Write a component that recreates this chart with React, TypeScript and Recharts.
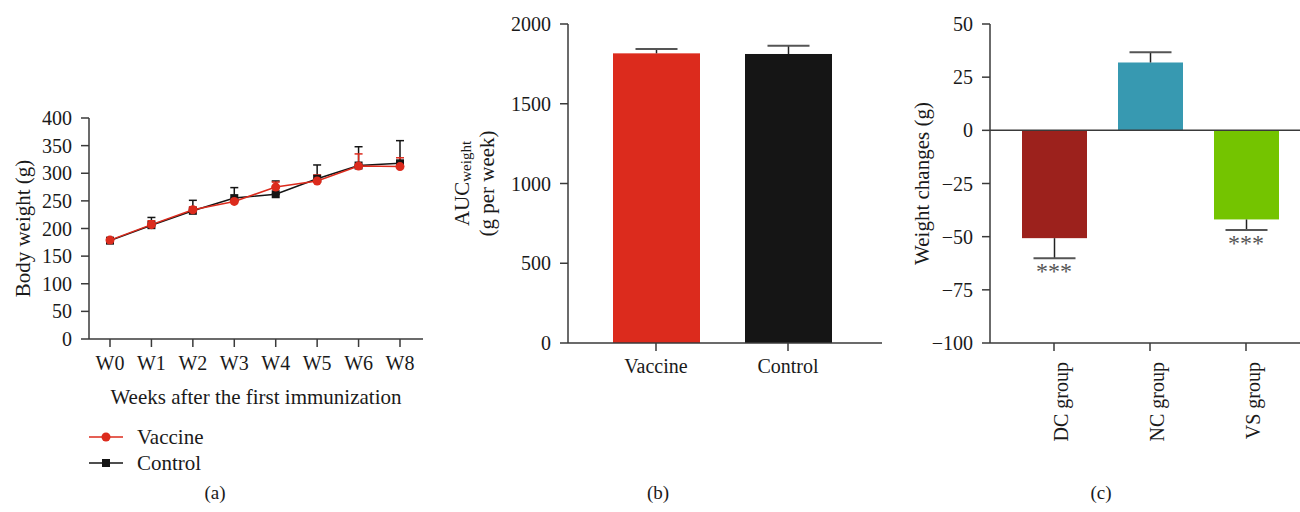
import React from "react";
import {
  LineChart,
  Line,
  BarChart,
  Bar,
  Cell,
  XAxis,
  YAxis,
  ErrorBar,
  ReferenceLine,
  ReferenceDot,
  Label,
} from "recharts";

// (a) body weight over time
const weeks = ["W0", "W1", "W2", "W3", "W4", "W5", "W6", "W8"];
const vaccineWeight = [179, 207, 234, 249, 275, 286, 313, 312];
const vaccineSem = [0, 7, 5, 2, 9, 11, 22, 16];
const controlWeight = [178, 206, 232, 255, 262, 290, 314, 318];
const controlSem = [0, 14, 19, 19, 24, 25, 34, 41];
const weightTicks = [0, 50, 100, 150, 200, 250, 300, 350, 400];

// (b) AUC
const aucGroups = ["Vaccine", "Control"];
const aucValues = [1816, 1812];
const aucSem = [27, 52];
const aucTicks = [0, 500, 1000, 1500, 2000];

// (c) weight changes
const changeGroups = ["DC group", "NC group", "VS group"];
const changeValues = [-50.7, 31.9, -41.9];
const changeSem = [9.4, 4.8, 5.0];
const changeSig = ["***", "", "***"];
const changeTicks = [50, 25, 0, -25, -50, -75, -100];

const FONT = '"Liberation Serif", "Times New Roman", serif';
const AXIS = "#3a3a3a";
const TEXT = "#1a1a1a";
const RED = "#dc2b1d";
const BLACK = "#151515";
const aucColors = [RED, BLACK];
const changeColors = ["#9c211c", "#3799b1", "#74c400"];

const tickStyle = { fontSize: 20, fill: TEXT, fontFamily: FONT };
const TITLE_SIZE = 21;

const weightData = weeks.map((w, i) => ({
  week: w,
  vaccine: vaccineWeight[i],
  vaccineErr: [0, vaccineSem[i]],
  control: controlWeight[i],
  controlErr: [0, controlSem[i]],
}));

const aucData = aucGroups.map((g, i) => ({ group: g, auc: aucValues[i], sem: aucSem[i] }));

const changeData = changeGroups.map((g, i) => ({
  group: g,
  change: changeValues[i],
  sem: changeSem[i],
  sig: changeSig[i],
}));

const minus = (v: number) => String(v).replace("-", "\u2212");

// bar + one-sided SEM whisker (away from zero), scaled from the bar's own pixel height
const errBar = (key: string) => (props: any) => {
  const { x, y, width, height, fill, payload } = props;
  const top = Math.min(y, y + height);
  const h = Math.abs(height);
  const val = payload[key];
  const px = h / Math.abs(val);
  const cx = x + width / 2;
  const end = val >= 0 ? top : top + h;
  const tip = val >= 0 ? end - payload.sem * px : end + payload.sem * px;
  return (
    <g>
      <rect x={x} y={top} width={width} height={h} fill={fill} />
      <line x1={cx} x2={cx} y1={end} y2={tip} stroke="#222" strokeWidth={1.5} />
      <line x1={cx - 21} x2={cx + 21} y1={tip} y2={tip} stroke="#555" strokeWidth={2} />
    </g>
  );
};

// rotated y-axis title, dx = distance of the text centre from the chart's left edge
const yTitle = (lines: React.ReactNode[], dxs: number[]) => (props: any) => {
  const vb = props.viewBox;
  const cy = vb.y + vb.height / 2;
  return (
    <g>
      {lines.map((l, i) => (
        <text
          key={i}
          x={dxs[i]}
          y={cy}
          transform={`rotate(-90 ${dxs[i]} ${cy})`}
          textAnchor="middle"
          dominantBaseline="central"
          fontFamily={FONT}
          fontSize={TITLE_SIZE}
          fill={TEXT}
        >
          {l}
        </text>
      ))}
    </g>
  );
};

const squareDot = (p: any) => (
  <rect key={`sq${p.index}`} x={p.cx - 4} y={p.cy - 4} width={8} height={8} fill={BLACK} />
);

function LegendA() {
  const rows = [
    { name: "Vaccine", color: RED, square: false },
    { name: "Control", color: BLACK, square: true },
  ];
  return (
    <svg width={200} height={60} style={{ position: "absolute", left: 80, top: 422 }}>
      {rows.map((r, i) => {
        const y = 15 + i * 26;
        return (
          <g key={r.name}>
            <line x1={9} x2={43} y1={y} y2={y} stroke={r.color} strokeWidth={1.5} />
            {r.square ? (
              <rect x={22} y={y - 4} width={8} height={8} fill={r.color} />
            ) : (
              <circle cx={26} cy={y} r={4.5} fill={r.color} />
            )}
            <text x={57} y={y} dominantBaseline="central" fontFamily={FONT} fontSize={TITLE_SIZE} fill={TEXT}>
              {r.name}
            </text>
          </g>
        );
      })}
    </svg>
  );
}

const caption = (text: string, x: number) => (
  <div
    style={{
      position: "absolute",
      left: x - 30,
      width: 60,
      top: 482,
      textAlign: "center",
      fontFamily: FONT,
      fontSize: 19,
      color: TEXT,
    }}
  >
    {text}
  </div>
);

export default function App() {
  return (
    <div style={{ position: "absolute", left: 0, top: 0, width: 1300, height: 512, background: "#fff" }}>
      {/* (a) */}
      <div style={{ position: "absolute", left: 0, top: 0 }}>
        <LineChart width={440} height={420} data={weightData} margin={{ top: 118, right: 17, bottom: 16, left: 0 }}>
          <XAxis
            dataKey="week"
            padding={{ left: 21, right: 23 }}
            height={65}
            tick={tickStyle}
            tickSize={8}
            tickMargin={9}
            stroke={AXIS}
            strokeWidth={1.5}
          >
            <Label
              content={(p: any) => (
                <text
                  x={p.viewBox.x + p.viewBox.width / 2}
                  y={p.viewBox.y + 65}
                  textAnchor="middle"
                  fontFamily={FONT}
                  fontSize={TITLE_SIZE}
                  fill={TEXT}
                >
                  Weeks after the first immunization
                </text>
              )}
            />
          </XAxis>
          <YAxis
            width={89}
            domain={[0, 400]}
            ticks={weightTicks}
            interval={0}
            tick={tickStyle}
            tickSize={8}
            tickMargin={9}
            stroke={AXIS}
            strokeWidth={1.5}
          >
            <Label content={yTitle(["Body weight (g)"], [23])} />
          </YAxis>
          <Line dataKey="control" stroke={BLACK} strokeWidth={1.5} dot={squareDot} activeDot={false} isAnimationActive={false}>
            <ErrorBar dataKey="controlErr" direction="y" width={4} stroke={BLACK} strokeWidth={1.5} />
          </Line>
          <Line
            dataKey="vaccine"
            stroke={RED}
            strokeWidth={1.5}
            dot={{ r: 4.5, fill: RED, stroke: RED, strokeWidth: 0 }}
            activeDot={false}
            isAnimationActive={false}
          >
            <ErrorBar dataKey="vaccineErr" direction="y" width={4} stroke={RED} strokeWidth={1.5} />
          </Line>
        </LineChart>
      </div>
      <LegendA />

      {/* (b) */}
      <div style={{ position: "absolute", left: 440, top: 0 }}>
        <BarChart width={442} height={400} data={aucData} margin={{ top: 24, right: 0, bottom: 17, left: 0 }} barSize={87}>
          <XAxis
            dataKey="group"
            padding={{ left: 22, right: 28 }}
            height={40}
            tick={tickStyle}
            tickSize={8}
            tickMargin={8}
            stroke={AXIS}
            strokeWidth={1.5}
          />
          <YAxis
            width={128}
            domain={[0, 2000]}
            ticks={aucTicks}
            interval={0}
            tick={tickStyle}
            tickSize={8}
            tickMargin={9}
            stroke={AXIS}
            strokeWidth={1.5}
          >
            <Label
              content={yTitle(
                [
                  <>
                    AUC
                    <tspan fontSize={15} dy={4}>
                      weight
                    </tspan>
                  </>,
                  "(g per week)",
                ],
                [22, 47]
              )}
            />
          </YAxis>
          <Bar dataKey="auc" shape={errBar("auc")} isAnimationActive={false}>
            {aucData.map((d, i) => (
              <Cell key={d.group} fill={aucColors[i]} />
            ))}
          </Bar>
        </BarChart>
      </div>

      {/* (c) */}
      <div style={{ position: "absolute", left: 880, top: 0 }}>
        <BarChart width={420} height={460} data={changeData} margin={{ top: 24, right: 0, bottom: 7, left: 0 }} barSize={65}>
          <XAxis
            dataKey="group"
            padding={{ left: 16, right: 6 }}
            height={110}
            interval={0}
            tick={{ ...tickStyle, angle: -90, textAnchor: "end", verticalAnchor: "middle" }}
            tickSize={8}
            tickMargin={11}
            stroke={AXIS}
            strokeWidth={1.5}
          />
          <YAxis
            width={110}
            domain={[-100, 50]}
            ticks={changeTicks}
            interval={0}
            tickFormatter={minus}
            tick={tickStyle}
            tickSize={8}
            tickMargin={9}
            stroke={AXIS}
            strokeWidth={1.5}
          >
            <Label content={yTitle(["Weight changes (g)"], [42])} />
          </YAxis>
          <Bar dataKey="change" shape={errBar("change")} isAnimationActive={false}>
            {changeData.map((d, i) => (
              <Cell key={d.group} fill={changeColors[i]} />
            ))}
          </Bar>
          <ReferenceLine y={0} stroke={AXIS} strokeWidth={1.5} />
          {changeData
            .filter((d) => d.sig)
            .map((d) => (
              <ReferenceDot
                key={d.group}
                x={d.group}
                y={d.change - d.sem}
                r={1}
                fill="none"
                stroke="none"
                label={{ value: d.sig, position: "bottom", offset: 3, fill: "#555", fontSize: 24, fontFamily: FONT }}
              />
            ))}
        </BarChart>
      </div>

      {caption("(a)", 215)}
      {caption("(b)", 658)}
      {caption("(c)", 1101)}
    </div>
  );
}
